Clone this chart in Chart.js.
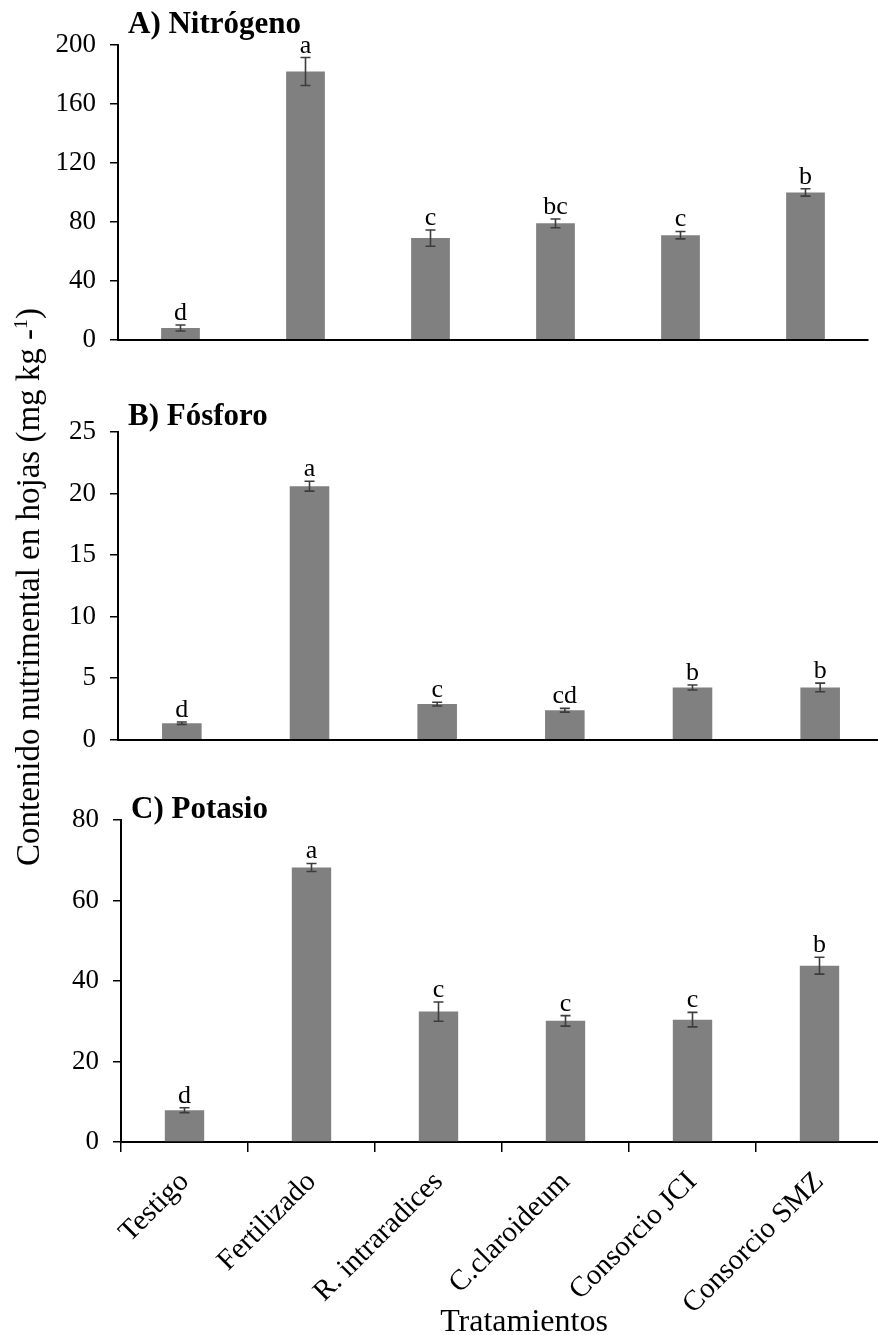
<!DOCTYPE html>
<html>
<head>
<meta charset="utf-8">
<script src="https://cdn.jsdelivr.net/npm/chart.js@4.4.1/dist/chart.umd.min.js"></script>
<style>
  html, body { margin: 0; padding: 0; background: #fff; overflow: hidden; }
  body { width: 878px; height: 1335px; position: relative; }
  canvas { position: absolute; left: 0; }
  #yTitle {
    position: absolute; left: 28px; top: 587px;
    transform: translate(-50%, -50%) rotate(-90deg);
    white-space: nowrap;
    font: 33px "Liberation Serif", serif; color: #000;
  }
  #yTitle sup { font-size: 60%; }
</style>
</head>
<body>
<canvas id="chartN" width="900" height="370" style="top:0px"></canvas>
<canvas id="chartP" width="900" height="390" style="top:380px"></canvas>
<canvas id="chartK" width="900" height="565" style="top:770px"></canvas>
<div id="yTitle">Contenido nutrimental en hojas (mg kg -<sup>1</sup>)</div>

<script>
// data
var categories = ['Testigo', 'Fertilizado', 'R. intraradices', 'C.claroideum', 'Consorcio JCI', 'Consorcio SMZ'];

var nitrogeno = [8, 182, 69, 79, 71, 100];
var nitrogenoErr = [2, 9.5, 5.5, 3, 2.5, 2.5];
var nitrogenoLetters = ['d', 'a', 'c', 'bc', 'c', 'b'];

var fosforo = [1.35, 20.6, 2.9, 2.4, 4.25, 4.25];
var fosforoErr = [0.1, 0.4, 0.15, 0.15, 0.2, 0.35];
var fosforoLetters = ['d', 'a', 'c', 'cd', 'b', 'b'];

var potasio = [7.9, 68.2, 32.4, 30.1, 30.4, 43.8];
var potasioErr = [0.6, 1, 2.4, 1.3, 1.8, 2.1];
var potasioLetters = ['d', 'a', 'c', 'c', 'c', 'b'];

Chart.defaults.font.family = '"Liberation Serif", serif';
Chart.defaults.color = '#000';

// error bars, letters above bars, panel title, x title
var extras = {
  id: 'extras',
  afterDatasetsDraw: function (chart, args, opts) {
    var ctx = chart.ctx;
    var yScale = chart.scales.y;
    var meta = chart.getDatasetMeta(0);
    var values = chart.data.datasets[0].data;
    ctx.save();
    for (var i = 0; i < values.length; i++) {
      var bx = meta.data[i].x;
      var top = yScale.getPixelForValue(values[i] + opts.errors[i]);
      var bot = yScale.getPixelForValue(values[i] - opts.errors[i]);
      ctx.strokeStyle = '#3c3c3c';
      ctx.lineWidth = 1.6;
      ctx.beginPath();
      ctx.moveTo(bx, top); ctx.lineTo(bx, bot);
      ctx.moveTo(bx - 5, top); ctx.lineTo(bx + 5, top);
      ctx.moveTo(bx - 5, bot); ctx.lineTo(bx + 5, bot);
      ctx.stroke();

      ctx.fillStyle = '#000';
      ctx.font = '26px "Liberation Serif"';
      ctx.textAlign = 'center';
      ctx.textBaseline = 'alphabetic';
      ctx.fillText(opts.letters[i], bx, top - 5);
    }
    var area = chart.chartArea;
    ctx.font = 'bold 31px "Liberation Serif"';
    ctx.textAlign = 'left';
    ctx.fillText(opts.title, area.left + 10, area.top + opts.titleDy);
    if (opts.xTitle) {
      ctx.font = '32px "Liberation Serif"';
      ctx.textAlign = 'center';
      ctx.fillText(opts.xTitle, (area.left + area.right) / 2 + 22, chart.height - 4);
    }
    ctx.restore();
  }
};

function makeChart(id, values, errors, letters, opts) {
  var showLabels = !!opts.xTitle;
  return new Chart(document.getElementById(id), {
    type: 'bar',
    data: {
      labels: categories,
      datasets: [{
        data: values,
        backgroundColor: '#808080',
        borderWidth: 0,
        barPercentage: 0.31,
        categoryPercentage: 1
      }]
    },
    options: {
      responsive: false,
      animation: false,
      layout: { padding: { top: opts.top, bottom: opts.bottom, left: 0, right: opts.right } },
      plugins: {
        legend: { display: false },
        tooltip: { enabled: false },
        extras: { errors: errors, letters: letters, title: opts.title, titleDy: opts.titleDy, xTitle: opts.xTitle }
      },
      scales: {
        x: {
          grid: { display: true, drawOnChartArea: false, drawTicks: showLabels, tickLength: 10, color: '#000', lineWidth: 1.5 },
          border: { display: true, color: '#000', width: 2 },
          ticks: { display: showLabels, autoSkip: false, maxRotation: 45, minRotation: 45, padding: 13, font: { size: 29 } },
          afterFit: function (scale) { scale.height = opts.xHeight; }
        },
        y: {
          min: 0,
          max: opts.max,
          ticks: { stepSize: opts.step, padding: 14, font: { size: 27 } },
          grid: { display: true, drawOnChartArea: false, drawTicks: true, tickLength: 8, color: '#000', lineWidth: 1.5 },
          border: { display: true, color: '#000', width: 2 },
          afterFit: function (scale) { scale.width = opts.left; }
        }
      }
    },
    plugins: [extras]
  });
}

function main() {
  makeChart('chartN', nitrogeno, nitrogenoErr, nitrogenoLetters,
    { title: 'A) Nitrógeno', titleDy: -12, max: 200, step: 40, top: 45, bottom: 11, right: 32, left: 118, xHeight: 0 });
  makeChart('chartP', fosforo, fosforoErr, fosforoLetters,
    { title: 'B) Fósforo', titleDy: -7, max: 25, step: 5, top: 52, bottom: 10, right: 16, left: 118, xHeight: 0 });
  makeChart('chartK', potasio, potasioErr, potasioLetters,
    { title: 'C) Potasio', titleDy: -2, max: 80, step: 20, top: 50, bottom: 0, right: 17, left: 121, xHeight: 193, xTitle: 'Tratamientos' });
}

document.addEventListener('DOMContentLoaded', function () {
  main();
});
</script>
</body>
</html>
